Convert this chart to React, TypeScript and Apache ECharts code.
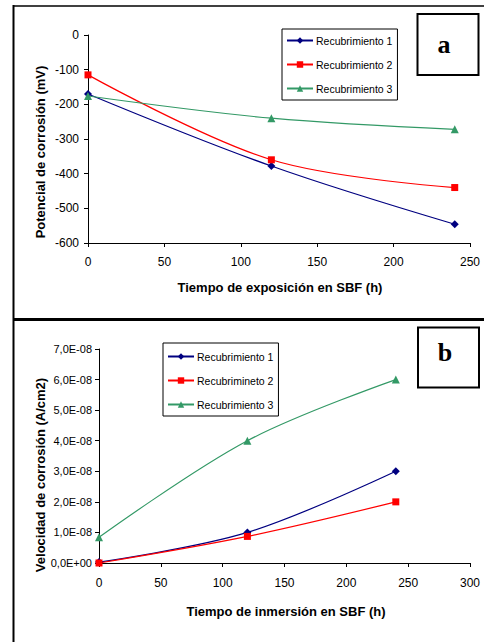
import React, { useEffect, useRef } from "react";
import * as echarts from "echarts";

// Panel a: corrosion potential (mV) vs exposure time in SBF (h)
const timesA = [0, 120, 240];
const potR1 = [-170, -378, -546];
const potR2 = [-115, -360, -440];
const potR3 = [-176, -240, -272];
const legendA = ["Recubrimiento 1", "Recubrimiento 2", "Recubrimiento 3"];

// Panel b: corrosion rate (A/cm2) vs immersion time in SBF (h)
const timesB = [0, 120, 240];
const rateR1 = [3e-10, 1.0e-8, 3.0e-8];
const rateR2 = [0, 0.87e-8, 2.0e-8];
const rateR3 = [0.84e-8, 4.0e-8, 6.0e-8];
const legendB = ["Recubrimiento 1", "Recubrimineto 2", "Recubrimiento 3"];

const titleAX = "Tiempo de exposición en SBF (h)";
const titleAY = "Potencial de corrosión (mV)";
const titleBX = "Tiempo de inmersión en SBF (h)";
const titleBY = "Velocidad de corrosión (A/cm2)";

const COLORS = ["#000080", "#FF0000", "#339966"];
const SYMBOLS = ["diamond", "rect", "triangle"];
const FONT = "Liberation Sans, Arial, sans-serif";
const TITLE_FONT = "bold 13px 'Liberation Sans', Arial, sans-serif";
const LETTER_FONT = "bold 26px 'Liberation Serif', 'Times New Roman', serif";

function sci(v: number): string {
  if (Math.abs(v) < 1e-20) return "0,0E+00";
  const a = Math.abs(v);
  const e = Math.floor(Math.log10(a) + 1e-9);
  const m = v / Math.pow(10, e);
  const es = (e < 0 ? "-" : "+") + String(Math.abs(e)).padStart(2, "0");
  return m.toFixed(1).replace(".", ",") + "E" + es;
}

const pair = (xs: number[], ys: number[]) => xs.map((x, i) => [x, ys[i]]);

export default function App() {
  const ref = useRef<HTMLDivElement>(null);
  useEffect(() => {
    if (!ref.current) return;
    const chart = echarts.init(ref.current, null, { renderer: "svg" });

    const axisCommon = {
      axisLine: { show: true, onZero: false, lineStyle: { color: "#000", width: 1 } },
      axisTick: { show: true, inside: false, length: 4, lineStyle: { color: "#000" } },
      splitLine: { show: false },
    };

    const mkSeries = (name: string, idx: number, data: number[][], axisIdx: number) => ({
      type: "line",
      name,
      xAxisIndex: axisIdx,
      yAxisIndex: axisIdx,
      data,
      smooth: 0.35,
      symbol: SYMBOLS[idx],
      symbolSize: idx === 1 ? 7 : 8,
      showSymbol: true,
      lineStyle: { color: COLORS[idx], width: 1.2 },
      itemStyle: { color: COLORS[idx] },
      z: 3,
    });

    const legendCommon = {
      orient: "vertical",
      itemWidth: 26,
      itemHeight: 8,
      itemGap: 13,
      borderColor: "#000",
      borderWidth: 1,
      borderRadius: 0,
      backgroundColor: "#fff",
      textStyle: { fontFamily: FONT, fontSize: 10.5, color: "#000", padding: [0, 0, 0, -2] },
      selectedMode: false,
      inactiveColor: "#000",
    };

    const option: any = {
      animation: false,
      backgroundColor: "#fff",
      grid: [
        { left: 88, top: 35, width: 382, height: 208 },
        { left: 99, top: 349, width: 371, height: 214 },
      ],
      xAxis: [
        {
          ...axisCommon,
          gridIndex: 0,
          type: "value",
          min: 0,
          max: 250,
          interval: 50,
          axisLabel: { color: "#000", fontFamily: FONT, fontSize: 12, margin: 13 },
        },
        {
          ...axisCommon,
          gridIndex: 1,
          type: "value",
          min: 0,
          max: 300,
          interval: 50,
          axisLabel: { color: "#000", fontFamily: FONT, fontSize: 12, margin: 14 },
        },
      ],
      yAxis: [
        {
          ...axisCommon,
          gridIndex: 0,
          type: "value",
          min: -600,
          max: 0,
          interval: 100,
          axisLabel: { color: "#000", fontFamily: FONT, fontSize: 12, margin: 9 },
        },
        {
          ...axisCommon,
          gridIndex: 1,
          type: "value",
          min: 0,
          max: 7e-8,
          interval: 1e-8,
          axisLabel: {
            color: "#000",
            fontFamily: FONT,
            fontSize: 11,
            margin: 7,
            formatter: (v: number) => sci(v),
          },
        },
      ],
      legend: [
        {
          ...legendCommon,
          left: 282,
          top: 29,
          padding: [6, 5, 6, 4],
          data: legendA,
        },
        {
          ...legendCommon,
          left: 163,
          top: 343,
          padding: [8, 5, 6, 4],
          data: legendB,
        },
      ],
      series: [
        mkSeries(legendA[0], 0, pair(timesA, potR1), 0),
        mkSeries(legendA[1], 1, pair(timesA, potR2), 0),
        mkSeries(legendA[2], 2, pair(timesA, potR3), 0),
        mkSeries(legendB[0], 0, pair(timesB, rateR1), 1),
        mkSeries(legendB[1], 1, pair(timesB, rateR2), 1),
        mkSeries(legendB[2], 2, pair(timesB, rateR3), 1),
      ],
      graphic: [
        // frames
        { type: "line", shape: { x1: 13.5, y1: 5, x2: 13.5, y2: 642 }, style: { stroke: "#000", lineWidth: 2 } },
        { type: "line", shape: { x1: 13, y1: 6, x2: 484, y2: 6 }, style: { stroke: "#000", lineWidth: 1.5 } },
        { type: "line", shape: { x1: 13, y1: 319.5, x2: 484, y2: 319.5 }, style: { stroke: "#000", lineWidth: 3 } },
        // letter boxes
        { type: "rect", shape: { x: 417.5, y: 14, width: 61, height: 61 }, style: { fill: "#fff", stroke: "#000", lineWidth: 2 } },
        {
          type: "text",
          x: 444,
          y: 44,
          style: { text: "a", font: LETTER_FONT, fill: "#000", align: "center", verticalAlign: "middle" },
        },
        { type: "rect", shape: { x: 418, y: 327.5, width: 61, height: 60 }, style: { fill: "#fff", stroke: "#000", lineWidth: 2 } },
        {
          type: "text",
          x: 445,
          y: 352,
          style: { text: "b", font: LETTER_FONT, fill: "#000", align: "center", verticalAlign: "middle" },
        },
        // axis titles
        {
          type: "text",
          x: 280,
          y: 287,
          style: { text: titleAX, font: TITLE_FONT, fill: "#000", align: "center", verticalAlign: "middle" },
        },
        {
          type: "text",
          x: 40,
          y: 152,
          rotation: Math.PI / 2,
          style: { text: titleAY, font: TITLE_FONT, fill: "#000", align: "center", verticalAlign: "middle" },
        },
        {
          type: "text",
          x: 286,
          y: 611,
          style: { text: titleBX, font: TITLE_FONT, fill: "#000", align: "center", verticalAlign: "middle" },
        },
        {
          type: "text",
          x: 40,
          y: 475,
          rotation: Math.PI / 2,
          style: { text: titleBY, font: TITLE_FONT, fill: "#000", align: "center", verticalAlign: "middle" },
        },
      ],
    };

    chart.setOption(option);
    return () => chart.dispose();
  }, []);

  return (
    <div
      ref={ref}
      style={{ position: "absolute", left: 0, top: 0, width: 484, height: 642, background: "#fff" }}
    />
  );
}
